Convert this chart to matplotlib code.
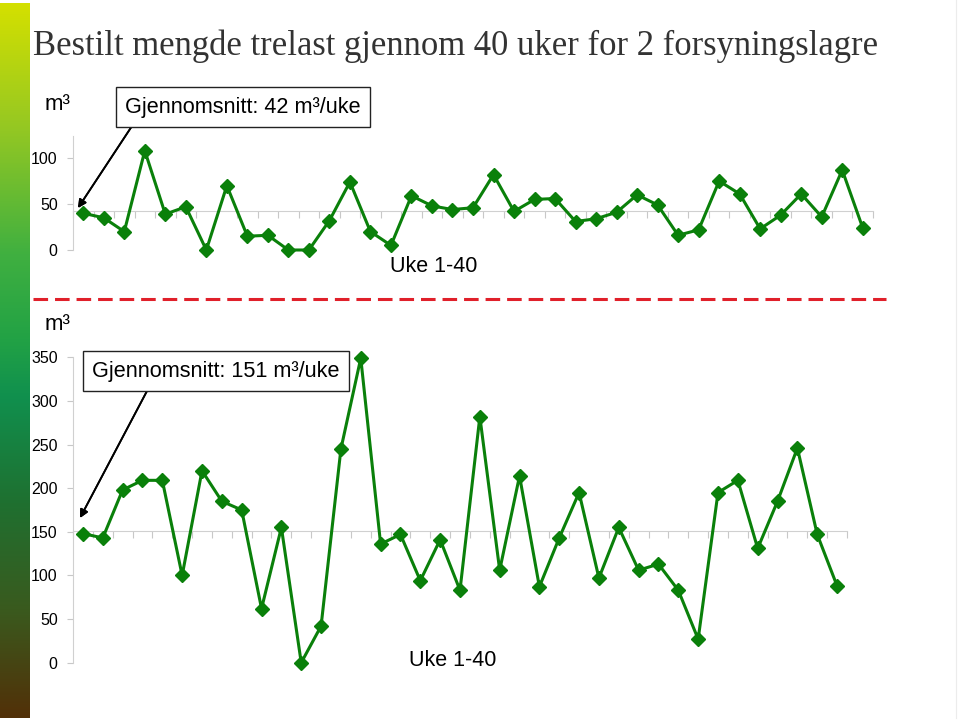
import numpy as np
import matplotlib.pyplot as plt
from matplotlib.lines import Line2D
from matplotlib.colors import LinearSegmentedColormap

plt.rcParams['font.family'] = ['Liberation Sans', 'DejaVu Sans']
plt.rcParams['lines.scale_dashes'] = False

# weekly ordered volume (m3), two supply depots
weeks = np.arange(1, 40)
lager1 = [40, 35, 20, 108, 39, 47, 0, 70, 15, 16,
          0, 0, 32, 74, 20, 5, 59, 48, 44, 46,
          82, 42, 55, 56, 31, 34, 41, 60, 49, 16,
          22, 75, 61, 23, 38, 61, 36, 87, 24]
lager2 = [148, 143, 198, 209, 209, 100, 220, 185, 175, 62,
          155, 0, 42, 245, 349, 136, 147, 94, 141, 83,
          282, 106, 214, 87, 143, 195, 97, 155, 106, 113,
          83, 27, 195, 209, 131, 185, 246, 147, 88]
avg1 = 42
avg2 = 151
yticks1 = [0, 50, 100]
yticks2 = [0, 50, 100, 150, 200, 250, 300, 350]

title = "Bestilt mengde trelast gjennom 40 uker for 2 forsyningslagre"
line_col = '#0a800a'
W, H = 960, 722


def fx(px):
    return px / W


def fy(py):
    return 1 - py / H


fig = plt.figure(figsize=(9.6, 7.22), dpi=100)

# gradient bar on the left
bar = fig.add_axes([0, fy(718), fx(30), (718 - 3) / H])
grad = LinearSegmentedColormap.from_list('g', [
    (0.0, '#d4e000'), (0.17, '#96c822'), (0.35, '#40b040'),
    (0.47, '#22a245'), (0.55, '#10904e'), (0.7, '#1f7030'),
    (0.85, '#3a5a1e'), (1.0, '#523008')])
bar.imshow(np.linspace(0, 1, 256)[:, None], aspect='auto', cmap=grad)
bar.set_axis_off()

# faint right edge
fig.add_artist(Line2D([fx(956), fx(956)], [fy(0), fy(718)], color='#ececec', lw=0.8))

fig.text(fx(33), fy(55), title, family='Liberation Serif', fontsize=24.9,
         color='#333333', va='baseline')


def panel(rect, vals, avg, ymax, yticks):
    ax = fig.add_axes(rect)
    ax.plot(weeks, vals, color=line_col, lw=2.2, marker='D', ms=7.5,
            mec=line_col, mfc=line_col, clip_on=False, zorder=3)
    ax.set_xlim(0.5, len(weeks) + 0.5)
    ax.set_ylim(0, ymax)
    ax.set_yticks(yticks)
    ax.set_xticks(np.arange(0.5, len(weeks) + 1, 1))
    ax.set_xticklabels([])
    for s in ['top', 'right']:
        ax.spines[s].set_visible(False)
    ax.spines['bottom'].set_position(('data', avg))
    ax.spines['bottom'].set_color('#d0d0d0')
    ax.spines['left'].set_color('#d0d0d0')
    ax.spines['left'].set_bounds(0, ymax)
    ax.tick_params(axis='x', colors='#c8c8c8', length=5, width=0.8, direction='out')
    ax.tick_params(axis='y', colors='#c8c8c8', length=4, width=0.8,
                   labelcolor='black', labelsize=11.5, pad=7)
    ax.patch.set_alpha(0)
    return ax


ax1 = panel([fx(73), fy(250), fx(800), (250 - 136) / H], lager1, avg1, 124, yticks1)
ax2 = panel([fx(73), fy(662.7), fx(774), (662.7 - 357.3) / H], lager2, avg2, 350, yticks2)

# unit labels
fig.text(fx(45), fy(105), "m³", fontsize=16, va='center')
fig.text(fx(45), fy(325), "m³", fontsize=16, va='center')

# week labels
fig.text(fx(390), fy(267), "Uke 1-40", fontsize=15.5, va='center')
fig.text(fx(409), fy(660), "Uke 1-40", fontsize=15.5, va='center')

# average boxes with arrows
box = dict(boxstyle='square,pad=0.42', fc='white', ec='#222222', lw=1.0)
fig.text(fx(243), fy(107), f"Gjennomsnitt: {avg1} m³/uke", fontsize=15.6,
         ha='center', va='center', bbox=box)
fig.text(fx(216), fy(371), f"Gjennomsnitt: {avg2} m³/uke", fontsize=15.6,
         ha='center', va='center', bbox=box)

arrow = dict(arrowstyle='-|>', color='black', lw=1.3, mutation_scale=12,
             shrinkA=0, shrinkB=0)
fig.add_artist(plt.annotate('', xy=(fx(78), fy(208)), xytext=(fx(132), fy(126)),
                            xycoords='figure fraction', arrowprops=arrow))
fig.add_artist(plt.annotate('', xy=(fx(80), fy(518)), xytext=(fx(147), fy(391)),
                            xycoords='figure fraction', arrowprops=arrow))

# dashed separator
fig.add_artist(Line2D([fx(33), fx(886)], [fy(299), fy(299)], color='#e0202a',
                      lw=2.2, dashes=(10.5, 5)))

fig.savefig('out.png', dpi=100)
